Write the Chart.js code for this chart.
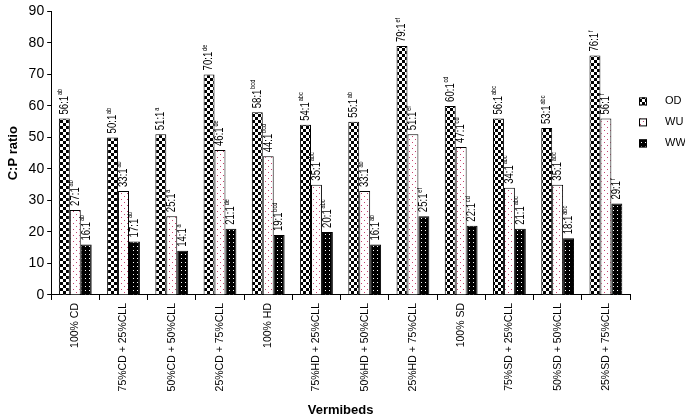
<!DOCTYPE html>
<html lang="en">
<head>
    <meta charset="UTF-8">
    <title>C:P ratio by vermibed</title>
    <script src="https://cdn.jsdelivr.net/npm/chart.js"></script>
    <style>
        body { margin: 0; background: #fff; }
        #wrap { width: 685px; height: 420px; }
    </style>
</head>
<body>
    <div id="wrap"><canvas id="myChart"></canvas></div>

    <script>
        // datos
        const categories = ['100% CD', '75%CD + 25%CLL', '50%CD + 50%CLL', '25%CD + 75%CLL',
            '100% HD', '75%HD + 25%CLL', '50%HD + 50%CLL', '25%HD + 75%CLL',
            '100% SD', '75%SD + 25%CLL', '50%SD + 50%CLL', '25%SD + 75%CLL'];
        const seriesNames = ['OD', 'WU', 'WW'];
        const odValues = [56, 50, 51, 70, 58, 54, 55, 79, 60, 56, 53, 76];
        const wuValues = [27, 33, 25, 46, 44, 35, 33, 51, 47, 34, 35, 56];
        const wwValues = [16, 17, 14, 21, 19, 20, 16, 25, 22, 21, 18, 29];
        const letters = ['ab', 'ab', 'a', 'de', 'bcd', 'abc', 'ab', 'ef', 'cd', 'abc', 'abc', 'f'];
        const yTicks = { min: 0, max: 90, step: 10 };

        const narrow = "'Liberation Sans Narrow', 'Arial Narrow', 'Liberation Sans', Arial, sans-serif";
        const sans = "'Liberation Sans', Arial, sans-serif";

        // patrones de relleno
        function makePattern(size, draw) {
            const c = document.createElement('canvas');
            c.width = size; c.height = size;
            const g = c.getContext('2d');
            draw(g);
            return g.createPattern(c, 'repeat');
        }
        const patOD = makePattern(6, g => {
            g.fillStyle = '#fff'; g.fillRect(0, 0, 6, 6);
            g.fillStyle = '#000';
            g.fillRect(0, 0, 3, 3);
            g.fillRect(3, 3, 3, 3);
        });
        const patWU = makePattern(6, g => {
            g.fillStyle = '#fff'; g.fillRect(0, 0, 6, 6);
            g.fillStyle = '#c8406e';
            g.fillRect(1, 1, 1, 1);
            g.fillRect(4, 4, 1, 1);
        });
        const patWW = makePattern(4, g => {
            g.fillStyle = '#000'; g.fillRect(0, 0, 4, 4);
            g.fillStyle = '#fff';
            g.fillRect(1, 2, 1, 1);
        });

        // etiquetas rotadas sobre cada barra
        const barLabels = {
            id: 'barLabels',
            afterDatasetsDraw(chart) {
                const ctx = chart.ctx;
                chart.data.datasets.forEach((ds, i) => {
                    chart.getDatasetMeta(i).data.forEach((bar, j) => {
                        const main = ds.data[j] + ':1';
                        ctx.save();
                        ctx.translate(bar.x, bar.y - 4);
                        ctx.rotate(-Math.PI / 2);
                        ctx.scale(0.8, 1);
                        ctx.fillStyle = '#000';
                        ctx.textBaseline = 'middle';
                        ctx.textAlign = 'left';
                        ctx.font = '12px ' + narrow;
                        ctx.fillText(main, 0, 0);
                        const w = ctx.measureText(main).width;
                        ctx.font = '7px ' + narrow;
                        ctx.fillText(letters[j], w + 1, -4);
                        ctx.restore();
                    });
                });
            }
        };

        // leyenda a la derecha
        const sideLegend = {
            id: 'sideLegend',
            afterDraw(chart) {
                const ctx = chart.ctx;
                const area = chart.chartArea;
                chart.data.datasets.forEach((ds, i) => {
                    const y = area.top + 90 + i * 21;
                    const x = area.right + 9;
                    ctx.save();
                    ctx.fillStyle = ds.backgroundColor;
                    ctx.fillRect(x, y - 4, 8, 8);
                    ctx.strokeStyle = '#000';
                    ctx.lineWidth = 1;
                    ctx.strokeRect(x + 0.5, y - 3.5, 7, 7);
                    ctx.fillStyle = '#000';
                    ctx.font = '11px ' + narrow;
                    ctx.textBaseline = 'middle';
                    ctx.fillText(ds.label, x + 26, y);
                    ctx.restore();
                });
            }
        };

        function makeSet(label, values, fill) {
            return {
                label: label,
                data: values,
                backgroundColor: fill,
                borderColor: '#000',
                borderWidth: 1,
                barPercentage: 1,
                categoryPercentage: 0.68
            };
        }

        const ctx = document.getElementById('myChart').getContext('2d');
        const myChart = new Chart(ctx, {
            type: 'bar',
            data: {
                labels: categories,
                datasets: [
                    makeSet(seriesNames[0], odValues, patOD),
                    makeSet(seriesNames[1], wuValues, patWU),
                    makeSet(seriesNames[2], wwValues, patWW)
                ]
            },
            options: {
                responsive: true,
                maintainAspectRatio: false,
                animation: false,
                layout: { padding: { left: 2, right: 55, top: 0, bottom: 2 } },
                plugins: {
                    legend: { display: false },
                    tooltip: { enabled: false }
                },
                scales: {
                    y: {
                        min: yTicks.min,
                        max: yTicks.max,
                        ticks: { stepSize: yTicks.step, color: '#000', font: { family: narrow, size: 14 }, padding: 3 },
                        border: { color: '#000', width: 1 },
                        grid: { drawOnChartArea: false, tickLength: 4, color: '#000' },
                        title: { display: true, text: 'C:P ratio', color: '#000', font: { family: sans, size: 13, weight: 'bold' } }
                    },
                    x: {
                        ticks: { maxRotation: 90, minRotation: 90, autoSkip: false, color: '#000', font: { family: narrow, size: 10.5 } },
                        border: { color: '#000', width: 1 },
                        grid: { offset: true, drawOnChartArea: false, tickLength: 5, color: '#000' },
                        title: { display: true, text: 'Vermibeds', color: '#000', font: { family: sans, size: 13, weight: 'bold' }, padding: { top: 8, bottom: 0 } }
                    }
                }
            },
            plugins: [barLabels, sideLegend]
        });
    </script>
</body>
</html>
